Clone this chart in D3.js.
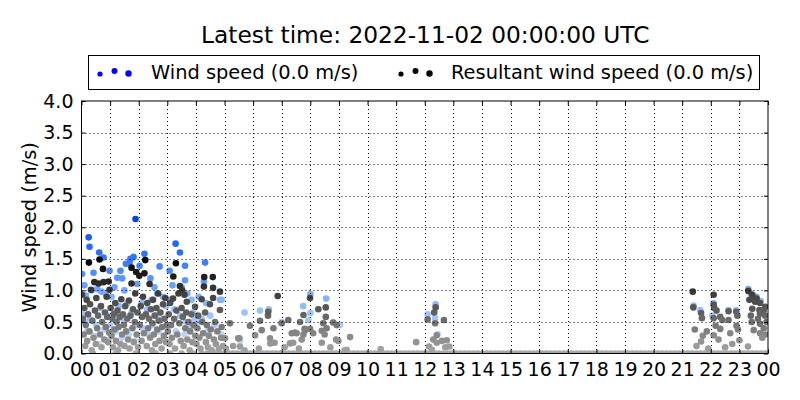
<!DOCTYPE html>
<html><head><meta charset="utf-8">
<script src="https://cdn.jsdelivr.net/npm/d3@7"></script>
<style>body{margin:0;background:#fff}svg{font-family:"DejaVu Sans",sans-serif}</style>
</head><body>
<svg id="c" width="800" height="400"></svg>
<script>
// ---- data ----
const titleText = "Latest time: 2022-11-02 00:00:00 UTC";
const yLabel = "Wind speed (m/s)";
const legendLabels = ["Wind speed (0.0 m/s)", "Resultant wind speed (0.0 m/s)"];
const xTickLabels = ["00","01","02","03","04","05","06","07","08","09","10","11","12","13","14","15","16","17","18","19","20","21","22","23","00"];
const yTicks = [0,0.5,1,1.5,2,2.5,3,3.5,4];

// wind speed [hour, m/s]
const wsData = [
[0.02,1.26],[0.1,1.08],[0.25,1.84],[0.28,1.69],[0.42,1.28],[0.62,1.6],[0.77,1.52],[0.98,1.31],[0.35,1.0],[0.55,1.02],[0.7,0.98],[0.15,0.92],[0.85,0.95],[0.05,0.62],[0.3,0.55],[0.5,0.45],[0.65,0.72],[0.9,0.6],[0.2,0.35],[0.45,0.28],[0.8,0.38],[0.95,0.2],[0.6,0.15],[0.12,0.5],
[1.05,0.9],[1.15,1.05],[1.25,1.2],[1.36,1.31],[1.42,1.19],[1.5,1.0],[1.55,1.42],[1.68,1.44],[1.71,1.5],[1.82,1.53],[1.89,2.13],[1.95,1.1],[1.1,0.6],[1.3,0.75],[1.45,0.55],[1.6,0.8],[1.75,0.65],[1.9,0.45],[1.2,0.35],[1.4,0.25],[1.65,0.3],[1.85,0.2],[1.0,0.45],
[2.03,1.39],[2.2,1.58],[2.41,1.19],[2.55,1.05],[2.73,1.38],[2.65,0.95],[2.85,0.9],[2.1,0.8],[2.3,0.7],[2.45,0.85],[2.6,0.6],[2.8,0.55],[2.95,0.75],[2.15,0.4],[2.35,0.3],[2.7,0.35],[2.9,0.25],[2.5,0.45],
[3.08,1.31],[3.18,1.08],[3.29,1.74],[3.44,1.6],[3.62,1.39],[3.62,1.16],[3.5,1.05],[3.7,0.95],[3.85,0.85],[3.1,0.85],[3.25,0.7],[3.45,0.6],[3.65,0.5],[3.9,0.65],[3.3,0.35],[3.6,0.3],[3.8,0.4],[3.95,0.55],
[4.32,1.44],[4.28,1.14],[4.1,0.9],[4.35,0.8],[4.5,0.6],[4.2,0.55],[4.65,0.45],[4.84,0.85],[4.9,0.85],[4.4,0.35],[4.05,0.5],[4.9,0.3],
[5.54,0.2],[5.7,0.65],[6.24,0.68],[6.55,0.7],[7.0,0.5],[7.75,0.75],[7.93,0.53],[8.0,0.94],[8.0,0.64],[8.55,0.87],[8.8,0.49],[9.04,0.45],
[12.1,0.62],[12.36,0.56],[12.38,0.78],[12.45,0.31],
[21.4,0.76],[21.63,0.69],[22.05,0.6],[22.1,0.8],[22.62,0.69],[22.89,0.69],[23.31,1.02],[23.4,0.95],[23.6,0.9],[23.75,0.83]
];

// resultant wind speed [hour, m/s]
const rsData = [
[0.02,0.93],[0.05,0.55],[0.08,0.3],[0.1,0.72],[0.13,0.12],[0.15,0.45],[0.18,0.85],[0.2,0.2],[0.23,0.62],[0.26,1.44],[0.28,0.35],[0.3,0.78],[0.33,1.01],[0.36,0.05],[0.38,0.52],[0.42,0.25],[0.45,1.13],[0.47,0.68],[0.5,0.15],[0.52,0.88],[0.55,0.4],[0.58,0.6],[0.6,1.11],[0.63,1.49],[0.65,0.3],[0.68,0.75],[0.7,0.1],[0.72,0.5],[0.75,1.34],[0.77,1.13],[0.8,0.22],[0.82,0.65],[0.85,0.42],[0.88,0.9],[0.9,0.58],[0.93,0.18],[0.95,1.14],[0.97,0.33],[0.98,1.01],
[1.02,0.72],[1.05,0.28],[1.08,0.55],[1.1,0.1],[1.13,0.63],[1.15,0.38],[1.18,0.8],[1.2,0.2],[1.23,0.5],[1.26,0.68],[1.28,0.05],[1.3,0.42],[1.33,0.58],[1.36,0.15],[1.39,0.86],[1.42,0.3],[1.45,0.62],[1.48,0.45],[1.5,0.12],[1.53,0.75],[1.56,0.35],[1.6,0.55],[1.63,0.22],[1.66,0.84],[1.68,0.08],[1.71,0.6],[1.75,1.36],[1.75,1.11],[1.78,0.4],[1.8,0.7],[1.83,0.18],[1.86,0.5],[1.88,0.95],[1.91,1.29],[1.93,0.3],[1.96,0.65],[1.98,0.1],
[2.02,1.23],[2.04,0.45],[2.07,0.75],[2.1,0.2],[2.12,0.58],[2.15,0.9],[2.18,0.32],[2.2,1.27],[2.23,1.48],[2.25,0.62],[2.28,0.12],[2.3,0.8],[2.33,0.4],[2.36,0.55],[2.38,1.1],[2.4,0.25],[2.43,0.7],[2.46,0.05],[2.48,0.48],[2.5,0.85],[2.53,0.3],[2.56,0.6],[2.58,0.15],[2.62,0.72],[2.65,0.38],[2.68,0.95],[2.7,0.52],[2.73,0.2],[2.76,0.65],[2.8,0.08],[2.82,0.42],[2.85,0.78],[2.88,0.28],[2.9,0.55],[2.93,0.88],[2.96,0.18],[2.98,0.45],
[3.02,0.35],[3.05,0.62],[3.08,0.15],[3.1,0.8],[3.13,0.45],[3.16,0.25],[3.2,0.87],[3.21,1.22],[3.24,0.55],[3.27,0.08],[3.3,1.43],[3.32,0.68],[3.35,0.3],[3.39,0.95],[3.42,0.48],[3.44,1.07],[3.47,0.2],[3.5,0.72],[3.52,1.0],[3.54,0.58],[3.57,0.12],[3.6,0.93],[3.63,0.4],[3.66,0.65],[3.68,0.82],[3.7,0.22],[3.74,0.5],[3.78,0.05],[3.8,0.35],[3.84,0.62],[3.88,0.18],[3.92,0.45],[3.97,0.74],[3.98,0.28],
[4.02,0.15],[4.05,0.4],[4.08,0.6],[4.12,0.25],[4.16,0.08],[4.2,0.86],[4.22,0.5],[4.25,0.32],[4.28,1.06],[4.29,1.21],[4.32,0.65],[4.35,0.18],[4.38,0.45],[4.42,0.1],[4.45,0.28],[4.49,0.78],[4.52,0.38],[4.55,0.05],[4.59,1.21],[4.6,1.04],[4.6,0.88],[4.63,0.22],[4.67,0.5],[4.7,0.15],[4.75,0.35],[4.8,0.08],[4.84,0.98],[4.84,0.69],[4.88,0.25],[4.9,0.42],[4.95,0.12],
[5.02,0.24],[5.05,0.08],[5.19,0.48],[5.3,0.12],[5.48,0.24],[5.52,0.24],[5.54,0.11],[5.7,0.05],[5.89,0.44],[6.07,0.29],[6.2,0.08],[6.24,0.52],[6.3,0.37],[6.52,0.6],[6.53,0.66],[6.59,0.24],[6.6,0.16],[6.71,0.4],[6.75,0.17],[6.86,0.91],[7.0,0.48],[7.1,0.1],[7.23,0.53],[7.29,0.16],[7.35,0.32],[7.4,0.17],[7.46,0.33],[7.52,0.32],[7.6,0.08],[7.64,0.5],[7.7,0.22],[7.76,0.61],[7.76,0.3],[7.8,0.39],[7.82,0.37],[7.99,0.88],[7.99,0.39],[8.1,0.32],[8.28,0.7],[8.4,0.17],[8.4,0.36],[8.45,0.48],[8.5,0.3],[8.54,0.73],[8.54,0.58],[8.57,0.4],[8.7,0.1],[8.8,0.49],[8.9,0.22],[8.92,0.45],[8.98,0.2],[9.2,0.05],[9.27,0.06],[9.39,0.26],[10.46,0.07],[11.7,0.18],
[12.1,0.54],[12.15,0.11],[12.25,0.06],[12.3,0.22],[12.33,0.65],[12.36,0.48],[12.38,0.73],[12.42,0.29],[12.42,0.17],[12.6,0.2],[12.67,0.53],[12.72,0.1],[12.77,0.21],[12.86,0.11],
[21.37,0.98],[21.39,0.73],[21.44,0.38],[21.5,0.12],[21.66,0.64],[21.66,0.19],[21.69,0.56],[21.72,0.28],[21.86,0.35],[21.91,0.08],[22.1,0.93],[22.1,0.77],[22.12,0.72],[22.2,0.68],[22.1,0.56],[22.1,0.29],[22.17,0.44],[22.27,0.22],[22.33,0.58],[22.33,0.39],[22.4,0.53],[22.5,0.1],[22.62,0.67],[22.62,0.53],[22.68,0.32],[22.75,0.15],[22.89,0.66],[22.93,0.6],[22.9,0.44],[22.95,0.38],[23.0,0.21],[23.3,0.11],[23.31,0.99],[23.45,0.93],[23.5,0.88],[23.6,0.87],[23.55,0.82],[23.72,0.8],[23.9,0.74],[23.45,0.71],[23.7,0.69],[23.85,0.69],[23.72,0.63],[23.9,0.6],[23.43,0.5],[23.72,0.47],[23.5,0.37],[23.85,0.4],[23.72,0.32],[23.9,0.3],[23.4,0.6],[23.35,0.85],[23.95,0.5],[23.65,0.55],[23.8,0.25]
];

// times (hour) with resultant wind speed of 0.0 m/s
const rsZeroTimes = [0.4,1.2,1.9,2.6,3.1,3.5,3.9,4.2,4.40,4.55,4.70,4.85,5.00,5.15,5.30,5.45,5.60,5.75,5.90,6.05,6.20,6.35,6.50,6.65,6.80,6.95,7.10,7.25,7.40,7.55,7.70,7.85,8.00,8.15,8.30,8.45,8.60,8.75,8.90,9.05,9.20,9.35,9.50,9.65,9.80,9.95,10.10,10.25,10.40,10.55,10.70,10.85,11.00,11.15,11.30,11.45,11.60,11.75,11.90,12.05,12.20,12.35,12.50,12.65,12.80,12.95,13.10,13.25,13.40,13.55,13.70,13.85,14.00,14.15,14.30,14.45,14.60,14.75,14.90,15.05,15.20,15.35,15.50,15.65,15.80,15.95,16.10,16.25,16.40,16.55,16.70,16.85,17.00,17.15,17.30,17.45,17.60,17.75,17.90,18.05,18.20,18.35,18.50,18.65,18.80,18.95,19.10,19.25,19.40,19.55,19.70,19.85,20.00,20.15,20.30,20.45,20.60,20.75,20.90,21.05,21.20,21.35,21.50,21.65,21.80,21.95,22.10,22.25,22.40,22.55,22.70,22.85,23.00,23.15,23.30,23.45,23.60,23.75,23.90];

// ---- layout ----
const L = 81.5, R = 768, T = 101, B = 353.5;
const svg = d3.select("#c");
svg.append("rect").attr("width",800).attr("height",400).attr("fill","#fff");

const x = d3.scaleLinear().domain([0,24]).range([L,R]);
const y = d3.scaleLinear().domain([0,4]).range([B,T]);
const wsColor = d3.scaleLinear().domain([0,0.8,1.5,1.9,2.2])
  .range(["#d2e4ff","#8cb9ff","#3278ff","#145aff","#003cdc"]).clamp(true);
const rsColor = d3.scaleLinear().domain([0,1.5]).range(["#a8a8a8","#000000"]).clamp(true);

svg.append("defs").append("clipPath").attr("id","clip")
  .append("rect").attr("x",L).attr("y",T).attr("width",R-L).attr("height",B-T);

const pts = svg.append("g").attr("clip-path","url(#clip)");
const r = 3.3;
pts.selectAll("circle.ws").data(wsData).join("circle").attr("class","ws")
  .attr("cx",d=>x(d[0])).attr("cy",d=>y(d[1])).attr("r",r).attr("fill",d=>wsColor(d[1]));
pts.selectAll("circle.z").data(rsZeroTimes).join("circle").attr("class","z")
  .attr("cx",d=>x(d)).attr("cy",y(0)).attr("r",r).attr("fill",rsColor(0));
pts.selectAll("circle.rs").data(rsData).join("circle").attr("class","rs")
  .attr("cx",d=>x(d[0])).attr("cy",d=>y(d[1])).attr("r",r).attr("fill",d=>rsColor(d[1]));

// grid
const grid = svg.append("g").attr("stroke","#000").attr("stroke-width",1).attr("stroke-dasharray","1,3");
grid.selectAll("line.gx").data(d3.range(1,24)).join("line")
  .attr("x1",d=>Math.round(x(d))+0.5).attr("x2",d=>Math.round(x(d))+0.5).attr("y1",T).attr("y2",B);
grid.selectAll("line.gy").data(yTicks.slice(1,-1)).join("line")
  .attr("y1",d=>Math.round(y(d))+0.5).attr("y2",d=>Math.round(y(d))+0.5).attr("x1",L).attr("x2",R);

// axes (inward ticks)
const fs = 19, fsBig = 19.4;
const xAxisB = d3.axisBottom(x).tickValues(d3.range(0,25)).tickSizeInner(-4).tickSizeOuter(0).tickPadding(10)
  .tickFormat((d,i)=>xTickLabels[i]);
const gx = svg.append("g").attr("transform",`translate(0,${B})`).call(xAxisB);
const xAxisT = d3.axisTop(x).tickValues(d3.range(0,25)).tickSizeInner(-4).tickSizeOuter(0).tickFormat("");
const gxt = svg.append("g").attr("transform",`translate(0,${T})`).call(xAxisT);
const yAxisL = d3.axisLeft(y).tickValues(yTicks).tickSizeInner(-4).tickSizeOuter(0).tickPadding(8).tickFormat(d3.format(".1f"));
const gy = svg.append("g").attr("transform",`translate(${L},0)`).call(yAxisL);
const yAxisR = d3.axisRight(y).tickValues(yTicks).tickSizeInner(-4).tickSizeOuter(0).tickFormat("");
const gyr = svg.append("g").attr("transform",`translate(${R},0)`).call(yAxisR);
[gx,gxt,gy,gyr].forEach(g=>{
  g.select(".domain").remove();
  g.selectAll("line").attr("stroke","#000");
  g.selectAll("text").attr("fill","#000").style("font-size",fs+"px").style("font-family","DejaVu Sans");
});
gx.selectAll("text").attr("dy","0").attr("y",22);
svg.append("rect").attr("x",L).attr("y",T).attr("width",R-L).attr("height",B-T)
  .attr("fill","none").attr("stroke","#000").attr("stroke-width",1);

// y label
svg.append("text").attr("transform",`translate(36,${(T+B)/2}) rotate(-90)`)
  .attr("text-anchor","middle").style("font-size",fsBig+"px").text(yLabel);

// title
svg.append("text").attr("x",(L+R)/2+0.5).attr("y",43).attr("text-anchor","middle")
  .style("font-size","23.3px").text(titleText);

// legend
const lg = svg.append("g");
lg.append("rect").attr("x",88.5).attr("y",55.5).attr("width",671).attr("height",34)
  .attr("fill","#fff").attr("stroke","#000");
const dotOff = [[0,2,2.6],[14.5,-1,3],[28.5,1.5,3.2]];
const legendItems = [{x:100,c:"#0000ff",tx:151},{x:401,c:"#000000",tx:451}];
legendItems.forEach((it,i)=>{
  dotOff.forEach(o=>lg.append("circle").attr("cx",it.x+o[0]).attr("cy",72+o[1]).attr("r",o[2]).attr("fill",it.c));
  lg.append("text").attr("x",it.tx).attr("y",79).style("font-size",fsBig+"px").text(legendLabels[i]);
});
</script>
</body></html>
